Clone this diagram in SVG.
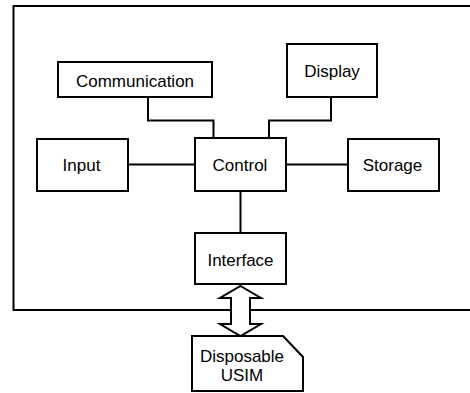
<svg xmlns="http://www.w3.org/2000/svg" width="470" height="393" viewBox="0 0 470 393">
<style>
.box{fill:#fff;stroke:#000;stroke-width:2}
.lbl{font-family:"Liberation Sans",Arial,sans-serif;font-size:17px;fill:#000;text-anchor:middle}
.con{fill:none;stroke:#000;stroke-width:2}
</style>
<rect width="470" height="393" fill="#fff"/>
<path id="frame" d="M471,6 H13.5 V310 H471" fill="none" stroke="#000" stroke-width="2"/>
<g id="connectors">
<path class="con" d="M148,97 V120.5 H213.5 V138"/>
<path class="con" d="M331,97 V120.5 H269 V138"/>
<path class="con" d="M128,164.5 H195"/>
<path class="con" d="M286,164.5 H348"/>
<path class="con" d="M240.5,191 V233"/>
<polygon id="double-arrow" points="240.5,286 261,298 250,298 250,324 261,324 240.5,336 220,324 231,324 231,298 220,298" fill="#fff" stroke="#000" stroke-width="2"/>
</g>
<g id="communication"><rect class="box" x="58" y="62" width="154" height="35"/><text class="lbl" x="135" y="86.5">Communication</text></g>
<g id="display"><rect class="box" x="287" y="44" width="90" height="53"/><text class="lbl" x="332" y="77">Display</text></g>
<g id="input"><rect class="box" x="37" y="139" width="91" height="52"/><text class="lbl" x="81.5" y="171">Input</text></g>
<g id="control"><rect class="box" x="195" y="138" width="91" height="53"/><text class="lbl" x="240" y="170.5">Control</text></g>
<g id="storage"><rect class="box" x="348" y="139" width="91" height="52"/><text class="lbl" x="392.5" y="171">Storage</text></g>
<g id="interface"><rect class="box" x="195" y="233" width="91" height="51"/><text class="lbl" x="240.5" y="266">Interface</text></g>
<g id="usim"><path class="box" d="M192,336 H283 L303,357 V391 H192 Z"/><text class="lbl" x="242" y="361.5">Disposable</text><text class="lbl" x="242" y="380.5">USIM</text></g>
</svg>
